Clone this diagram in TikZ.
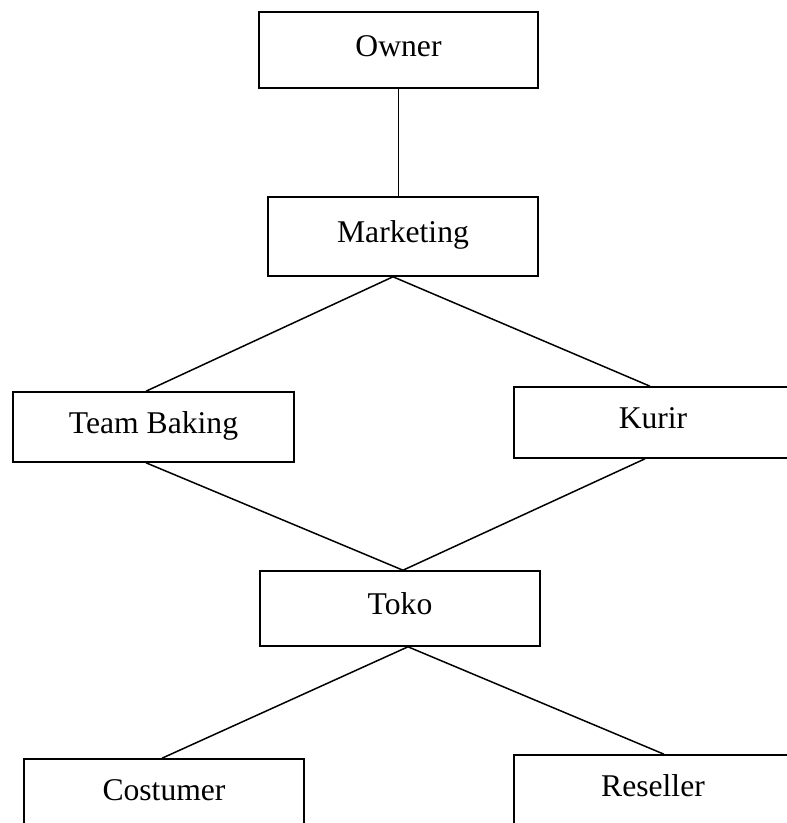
\documentclass[tikz,border=0pt]{standalone}
\usepackage{fontspec}
\setmainfont{Liberation Serif}
\usetikzlibrary{positioning}

\begin{document}
\begin{tikzpicture}[
        font=\fontsize{18}{22}\selectfont,
        unit/.style={rectangle, draw=black, line width=0.9pt, fill=white,
                     minimum width=5.6cm, minimum height=1.45cm,
                     text height=0.45cm, text depth=0.2cm,
                     align=center, inner sep=2pt},
        link/.style={draw=black, line width=0.85pt}
    ]

    % page frame
    \clip (0,0) rectangle (15.74,-16.46);
    \useasboundingbox (0,0) rectangle (15.74,-16.46);

    % top of the chart
    \node[unit, minimum width=5.58cm, minimum height=1.52cm] (owner)     at (7.97,-1.00) {Owner};
    \node[unit, minimum width=5.40cm, minimum height=1.58cm] (marketing) at (8.06,-4.73) {Marketing};

    % middle row
    \node[unit, minimum width=5.62cm, minimum height=1.40cm] (baking) at ( 3.07,-8.54) {Team Baking};
    \node[unit, minimum width=5.56cm, minimum height=1.42cm] (kurir)  at (13.06,-8.45) {Kurir};

    % shop
    \node[unit, minimum width=5.60cm, minimum height=1.50cm] (toko) at (8.00,-12.17) {Toko};

    % buyers at bottom
    \node[unit, minimum height=1.40cm] (costumer) at ( 3.28,-15.88) {Costumer};
    \node[unit, minimum width=5.56cm, minimum height=1.40cm] (reseller) at (13.06,-15.80) {Reseller};

    % owner -> marketing
    \draw[link] (owner.south) -- (owner.south |- marketing.north);

    % marketing -> baking / kurir
    \draw[link] ([xshift=-0.15cm]baking.north) -- ([xshift=-0.2cm]marketing.south) -- ([xshift=-0.06cm]kurir.north);

    % baking / kurir -> toko
    \draw[link] ([xshift=-0.15cm]baking.south) -- ([xshift=0.06cm]toko.north) -- ([xshift=-0.16cm]kurir.south);

    % toko -> costumer / reseller
    \draw[link] ([xshift=-0.04cm]costumer.north) -- ([xshift=0.16cm]toko.south) -- ([xshift=0.22cm]reseller.north);

\end{tikzpicture}
\end{document}
